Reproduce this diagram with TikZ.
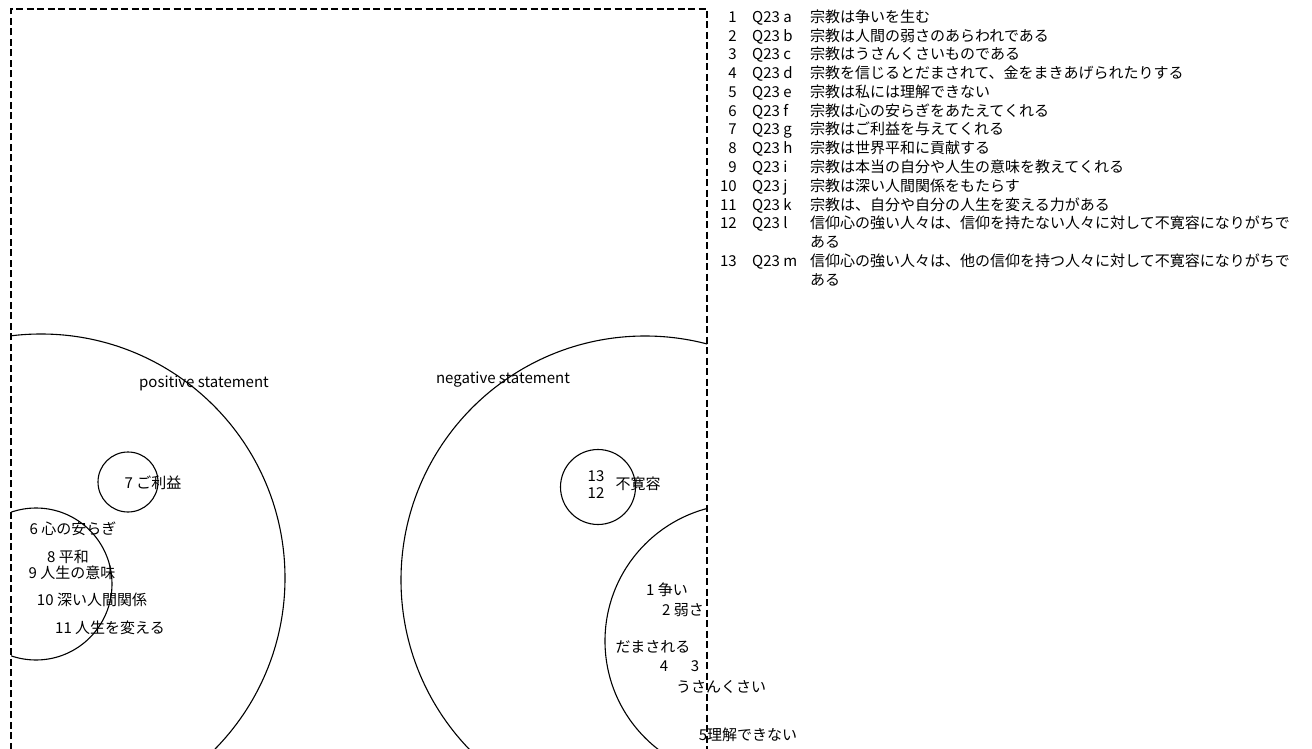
\documentclass[tikz,border=0pt]{standalone}
\usepackage{fontspec}
\setmainfont{Noto Sans CJK JP}
\begin{document}
\begin{tikzpicture}[x=1pt,y=-1pt,
  lbl/.style={inner sep=0pt, font=\fontsize{15}{18}\selectfont},
  ring/.style={draw, circle, line width=1.1pt, inner sep=0pt, minimum size=#1},
  frame/.style={draw, dash pattern=on 7pt off 3.5pt, line width=1.1pt}]
\useasboundingbox (0,0) rectangle (1312,749);
\fill[white] (0,0) rectangle (1312,749);
\begin{scope}
  \clip (11,9) rectangle (707,749);
  \node[ring=488pt] (pos) at (41,578) {};
  \node[ring=152pt] (possub) at (36,584) {};
  \node[ring=60pt] (rieki) at (128,482) {};
  \node[ring=488pt] (neg) at (645,580) {};
  \node[ring=75pt] (kanyo) at (598,487) {};
  \node[ring=274pt] (negsub) at (742,641) {};
\end{scope}
\draw[frame] (11,760) -- (11,9) -- (707,9) -- (707,760);
% diagram labels
\node[lbl] (tpos) at (204,383) {positive statement};
\node[lbl] (t7) at (153,483) {7 ご利益};
\node[lbl] (t6) at (73,529) {6 心の安らぎ};
\node[lbl] (t8) at (68,557) {8 平和};
\node[lbl] (t9) at (72,573) {9 人生の意味};
\node[lbl] (t10) at (92,600) {10 深い人間関係};
\node[lbl] (t11) at (110,628) {11 人生を変える};
\node[lbl] (tneg) at (503,380) {negative statement};
\node[lbl] (t13) at (596,476) {13};
\node[lbl] (t12) at (596,493) {12};
\node[lbl] (tkan) at (638,484) {不寛容};
\node[lbl] (t1) at (667,590) {1 争い};
\node[lbl] (t2) at (683,610) {2 弱さ};
\node[lbl] (tdama) at (653,647) {だまされる};
\node[lbl] (t4) at (664,666) {4};
\node[lbl] (t3) at (695,666) {3};
\node[lbl] (tusan) at (721,687) {うさんくさい};
\node[lbl] (t5) at (748,735) {5理解できない};
% legend
\foreach \i/\q/\t [evaluate=\i as \yy using {22.5+(\i-1)*18.75}] in {
  1/a/宗教は争いを生む,
  2/b/宗教は人間の弱さのあらわれである,
  3/c/宗教はうさんくさいものである,
  4/d/宗教を信じるとだまされて、金をまきあげられたりする,
  5/e/宗教は私には理解できない,
  6/f/宗教は心の安らぎをあたえてくれる,
  7/g/宗教はご利益を与えてくれる,
  8/h/宗教は世界平和に貢献する,
  9/i/宗教は本当の自分や人生の意味を教えてくれる,
  10/j/宗教は深い人間関係をもたらす,
  11/k/宗教は、自分や自分の人生を変える力がある,
  12/l/信仰心の強い人々は、信仰を持たない人々に対して不寛容になりがちで}{
  \node[lbl, anchor=base east] (ln\i) at (737,\yy) {\i};
  \node[lbl, anchor=base west] (lq\i) at (752,\yy) {Q23 \q};
  \node[lbl, anchor=base west] (lt\i) at (810,\yy) {\t};
}
\node[lbl, anchor=base west] (lt12b) at (810,247.5) {ある};
\node[lbl, anchor=base east] (ln13) at (737,266.25) {13};
\node[lbl, anchor=base west] (lq13) at (752,266.25) {Q23 m};
\node[lbl, anchor=base west] (lt13) at (810,266.25) {信仰心の強い人々は、他の信仰を持つ人々に対して不寛容になりがちで};
\node[lbl, anchor=base west] (lt13b) at (810,285) {ある};
\end{tikzpicture}
\end{document}
